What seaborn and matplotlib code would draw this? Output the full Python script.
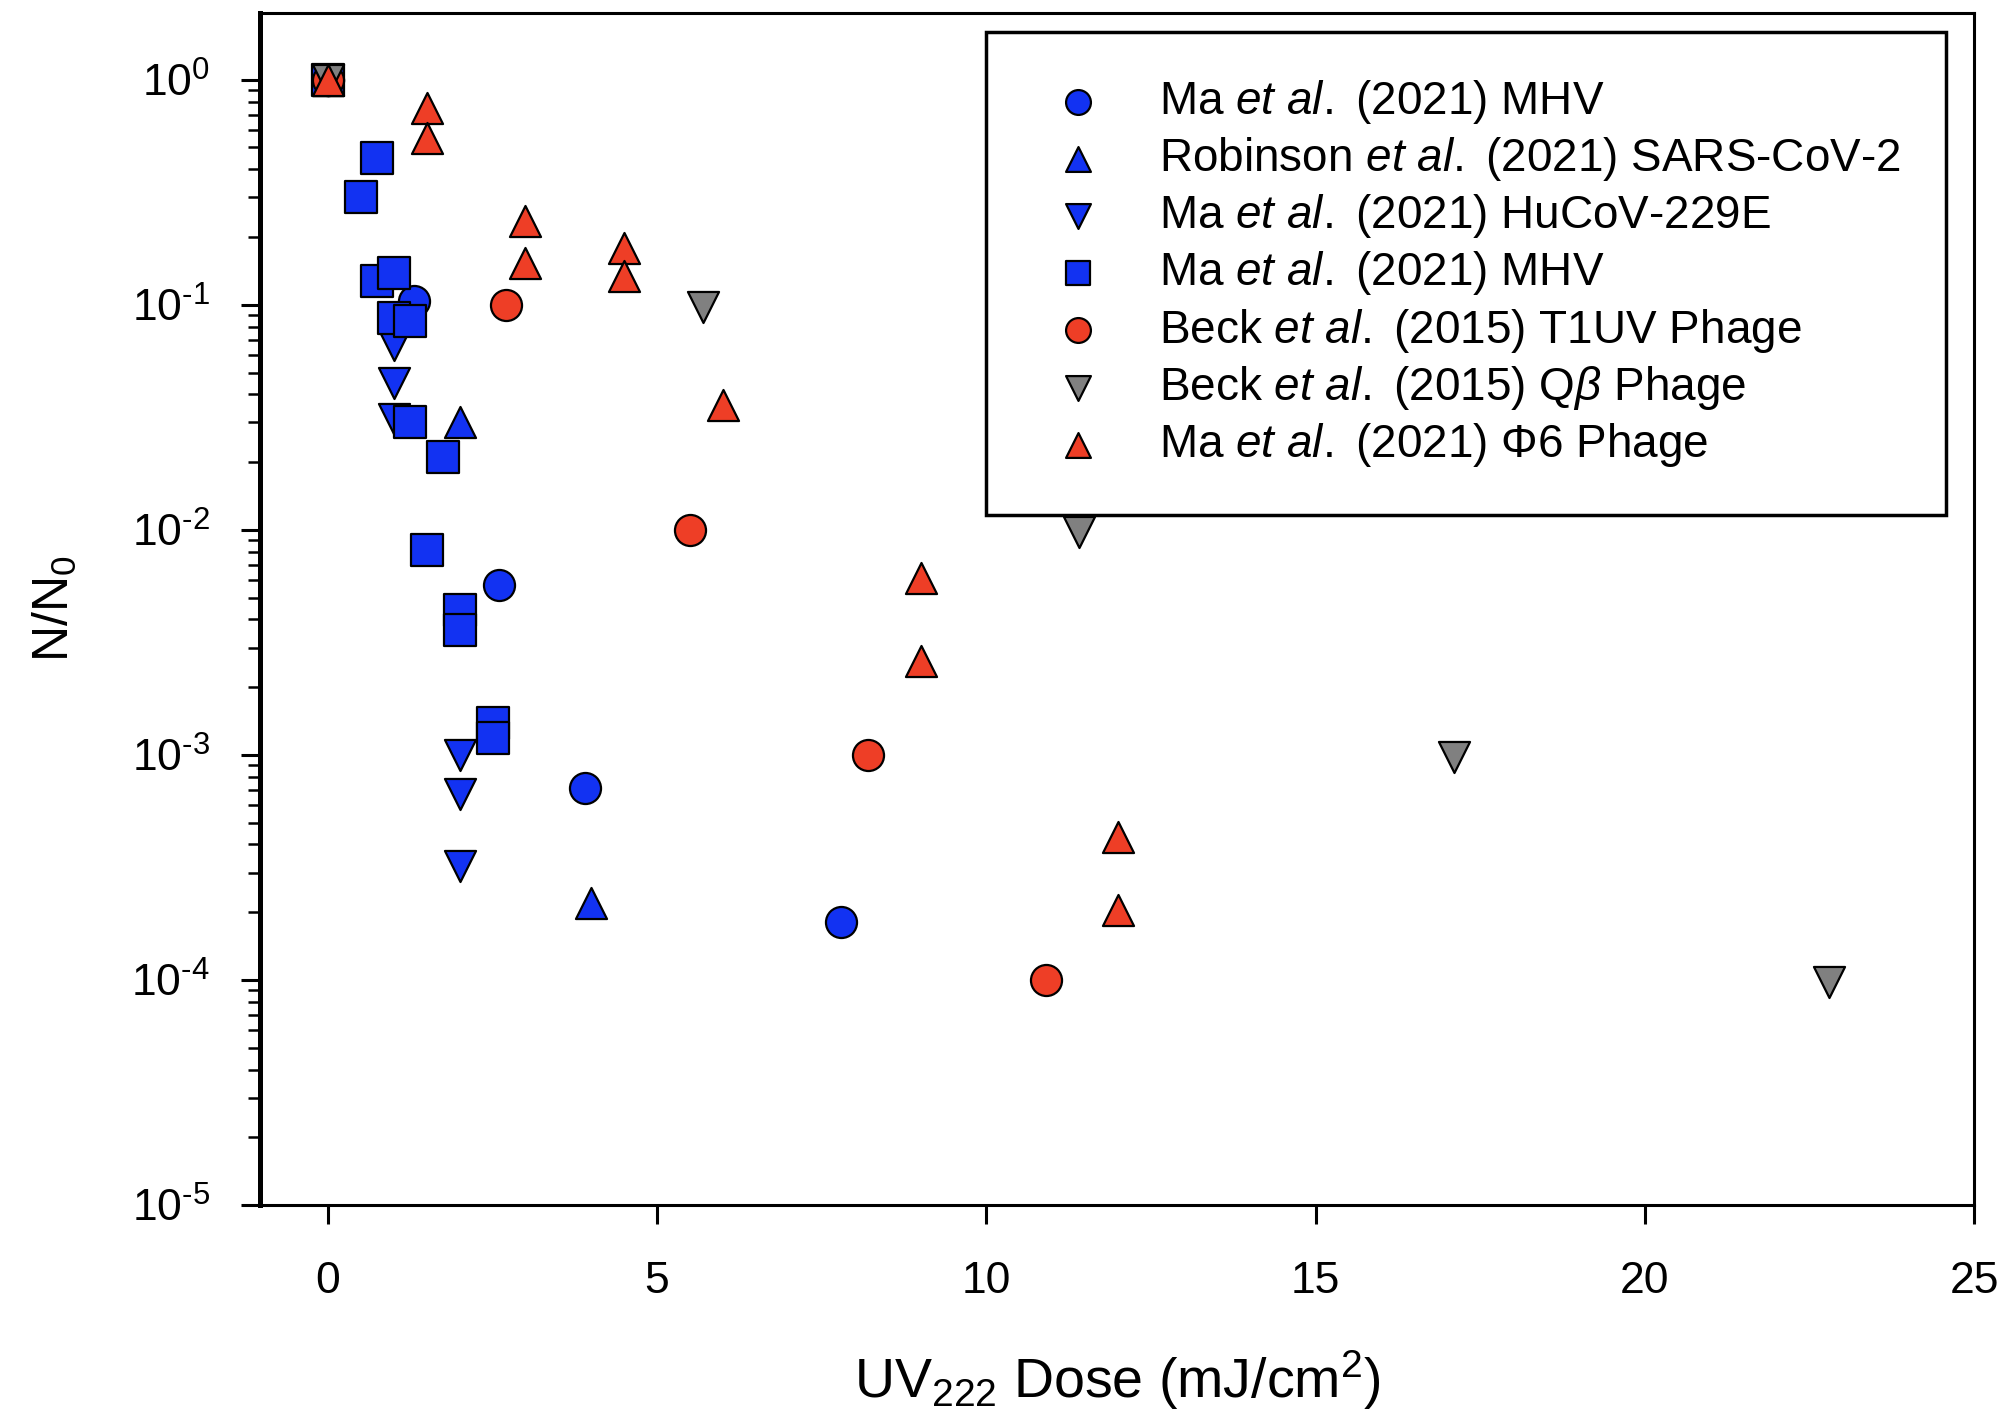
import numpy as np
import pandas as pd
import matplotlib
matplotlib.use("Agg")
import matplotlib.pyplot as plt
import seaborn as sns
from matplotlib.ticker import LogLocator, FixedLocator, FuncFormatter

# ---------------- data ----------------
ma_mhv_circle_x = [0, 1.3, 2.6, 3.9, 7.8]
ma_mhv_circle_y = [1.0, 0.104, 0.0057, 7.1e-4, 1.8e-4]

robinson_x = [0, 2.0, 4.0]
robinson_y = [1.0, 0.030, 2.2e-4]

hucov_x = [0, 1.0, 1.0, 1.0, 2.0, 2.0, 2.0]
hucov_y = [1.0, 0.066, 0.045, 0.031, 1.0e-3, 6.7e-4, 3.2e-4]

ma_mhv_square_x = [0, 0.5, 0.75, 0.75, 1.0, 1.0, 1.25, 1.25, 1.5, 1.75, 2.0, 2.0, 2.5, 2.5]
ma_mhv_square_y = [1.0, 0.30, 0.45, 0.128, 0.138, 0.087, 0.085, 0.030, 0.0081, 0.021,
                   0.0044, 0.0036, 0.00138, 0.00119]

beck_t1uv_x = [0, 2.7, 5.5, 8.2, 10.9]
beck_t1uv_y = [1.0, 0.10, 0.010, 1.0e-3, 1.0e-4]

beck_qb_x = [0, 5.7, 11.4, 17.1, 22.8]
beck_qb_y = [1.0, 0.098, 0.0098, 9.8e-4, 9.8e-5]

phi6_x = [0, 1.5, 1.5, 3.0, 3.0, 4.5, 4.5, 6.0, 9.0, 9.0, 12.0, 12.0]
phi6_y = [1.0, 0.75, 0.55, 0.235, 0.153, 0.178, 0.134, 0.036, 0.0061, 0.0026, 4.3e-4, 2.05e-4]

labels = [
    r"Ma $\it{et\ al.}$ (2021) MHV",
    r"Robinson $\it{et\ al.}$ (2021) SARS-CoV-2",
    r"Ma $\it{et\ al.}$ (2021) HuCoV-229E",
    r"Ma $\it{et\ al.}$ (2021) MHV",
    r"Beck $\it{et\ al.}$ (2015) T1UV Phage",
    r"Beck $\it{et\ al.}$ (2015) Q$\beta$ Phage",
    r"Ma $\it{et\ al.}$ (2021) $\Phi$6 Phage",
]
x_ticks = [0, 5, 10, 15, 20, 25]

BLUE = "#1232F2"
RED = "#EE3E26"
GREY = "#808080"

series = [
    (ma_mhv_circle_x, ma_mhv_circle_y, "o", BLUE),
    (robinson_x, robinson_y, "^", BLUE),
    (hucov_x, hucov_y, "v", BLUE),
    (ma_mhv_square_x, ma_mhv_square_y, "s", BLUE),
    (beck_t1uv_x, beck_t1uv_y, "o", RED),
    (beck_qb_x, beck_qb_y, "v", GREY),
    (phi6_x, phi6_y, "^", RED),
]

# ---------------- style ----------------
sns.set_theme(style="white")
plt.rcParams["font.family"] = ["Liberation Sans", "DejaVu Sans"]
plt.rcParams["mathtext.fontset"] = "custom"
plt.rcParams["mathtext.rm"] = "Liberation Sans"
plt.rcParams["mathtext.it"] = "Liberation Sans:italic"
plt.rcParams["mathtext.bf"] = "Liberation Sans:bold"
plt.rcParams["mathtext.sf"] = "Liberation Sans"
plt.rcParams["text.color"] = "black"
plt.rcParams["axes.labelcolor"] = "black"
plt.rcParams["xtick.color"] = "black"
plt.rcParams["ytick.color"] = "black"

fig = plt.figure(figsize=(20.1, 14.22), dpi=100)
ax = fig.add_axes([0.1294, 0.1526, 0.8527, 0.8383])

for (xs, ys, mk, col), lab in zip(series, labels):
    df = pd.DataFrame({"dose": xs, "ratio": ys})
    sns.scatterplot(data=df, x="dose", y="ratio", marker=mk, color=col,
                    s=500, edgecolor="black", linewidth=1.6, label=lab,
                    ax=ax, zorder=3)

ax.set_yscale("log")
ax.set_xlim(-1.03, 25.0)
ax.set_ylim(1e-5, 1.98)

ax.xaxis.set_major_locator(FixedLocator(x_ticks))
ax.yaxis.set_major_locator(LogLocator(base=10, numticks=10))
ax.yaxis.set_minor_locator(LogLocator(base=10, subs=np.arange(2, 10), numticks=20))


def log_fmt(v, pos):
    e = int(round(np.log10(v)))
    if e < 0:
        return r"$\mathregular{10^{\text{-}%d}}$" % (-e)
    return r"$\mathregular{10^{%d}}$" % e


ax.yaxis.set_major_formatter(FuncFormatter(log_fmt))

ax.tick_params(axis="x", which="major", direction="out", length=14, width=2.2,
               labelsize=32, pad=26, bottom=True, top=False)
ax.tick_params(axis="y", which="major", direction="out", length=14, width=2.2,
               labelsize=32, pad=22, left=True, right=False)
ax.tick_params(axis="y", which="minor", direction="out", length=8.5, width=1.8,
               left=True, right=False)

for side in ["top", "right", "bottom"]:
    ax.spines[side].set_linewidth(2.2)
    ax.spines[side].set_color("black")
ax.spines["left"].set_linewidth(3.6)
ax.spines["left"].set_color("black")

ax.set_xlabel(r"UV$_{222}$ Dose (mJ/cm$^{2}$)", fontsize=40, labelpad=34)
ax.set_ylabel(r"N/N$_{0}$", fontsize=36, labelpad=38)

leg = ax.legend(loc="upper right", bbox_to_anchor=(0.9837, 0.984), borderaxespad=0,
                fontsize=33, frameon=True, fancybox=False, edgecolor="black",
                framealpha=1, markerscale=0.8, handlelength=2.0, handletextpad=0.76,
                borderpad=1.0, labelspacing=0.2)
leg.get_frame().set_linewidth(2.5)

fig.savefig("out.png", dpi=100, facecolor="white")
